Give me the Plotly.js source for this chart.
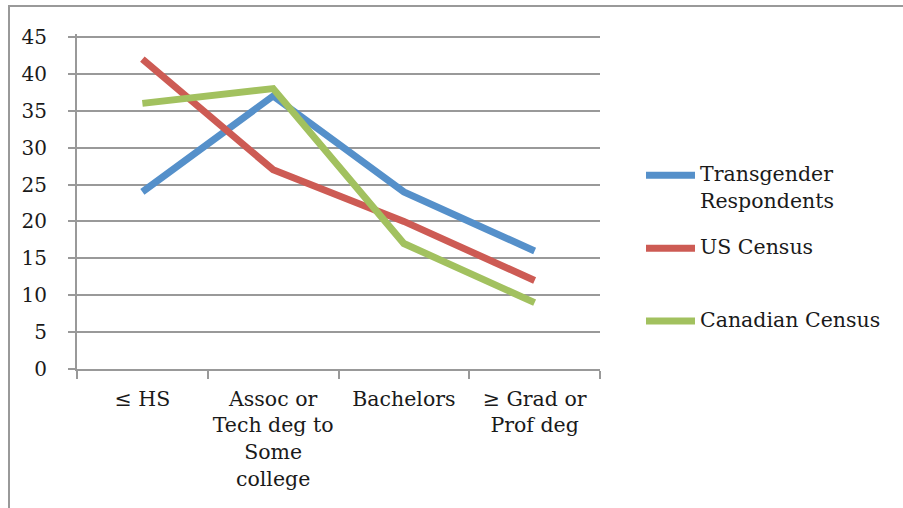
<!DOCTYPE html>
<html>
<head>
<meta charset="utf-8">
<script src="https://cdn.plot.ly/plotly-3.0.1.min.js"></script>
<style>
html,body{margin:0;padding:0;background:#fff;}
#wrap{position:relative;width:903px;height:508px;overflow:hidden;}
#frame{position:absolute;left:8px;top:5px;width:1000px;height:1000px;border-left:2px solid #999;border-top:2px solid #999;pointer-events:none;}
#chart{position:absolute;left:0;top:0;width:903px;height:508px;}
</style>
</head>
<body>
<div id="wrap"><div id="chart"></div><div id="frame"></div></div>
<script>
const categories = ["≤ HS", "Assoc or<br>Tech deg to<br>Some<br>college", "Bachelors", "≥ Grad or<br>Prof deg"];
const seriesNames = ["Transgender<br>Respondents", "US Census", "Canadian Census"];
const transgender = [24, 37, 24, 16];
const usCensus = [42, 27, 20, 12];
const canadianCensus = [36, 38, 17, 9];
const yTicks = [0, 5, 10, 15, 20, 25, 30, 35, 40, 45];
const colors = ["#5590CA", "#CD5B54", "#A2C15F"];

const values = [transgender, usCensus, canadianCensus];

const W = 903, H = 508;
const yMax = 45.4;
const L = 77, R = 600, B = 369;
const T45 = 36.5;
const T = B - (B - T45) * yMax / 45;
const px = x => (x - L) / (R - L);
const py = y => (B - y) / (B - T);

const traces = values.map((v, i) => ({
  type: "scatter", mode: "lines",
  x: categories, y: v, name: seriesNames[i],
  line: {color: colors[i], width: 7},
  showlegend: false, hoverinfo: "skip"
}));

const serif = "DejaVu Serif, Liberation Serif, serif";
const legendY = [175, 248, 321];
const shapes = [];
const annotations = [];
seriesNames.forEach((n, i) => {
  shapes.push({type: "line", xref: "paper", yref: "paper",
    x0: px(646), x1: px(695), y0: py(legendY[i]), y1: py(legendY[i]),
    line: {color: colors[i], width: 7}});
  annotations.push({xref: "paper", yref: "paper", x: px(698), y: py(legendY[i] - 15),
    xanchor: "left", yanchor: "top", align: "left", showarrow: false, text: n,
    font: {family: serif, size: 20.5, color: "#1a1a1a"}});
});

const layout = {
  width: W, height: H,
  margin: {l: L, r: W - R, t: T, b: H - B, pad: 0},
  paper_bgcolor: "rgba(0,0,0,0)", plot_bgcolor: "rgba(0,0,0,0)",
  showlegend: false,
  xaxis: {
    type: "category", range: [-0.5, 3.5], tickson: "boundaries", ticks: "outside", ticklen: 8, tickwidth: 2, tickcolor: "#999",
    showline: true, linecolor: "#999", linewidth: 2, showgrid: false, zeroline: false,
    tickfont: {family: serif, size: 20.5, color: "#1a1a1a"}, ticklabelstandoff: 10,
    fixedrange: true, tickangle: 0
  },
  yaxis: {
    range: [0, yMax], tickvals: yTicks, ticktext: yTicks.map(String),
    ticks: "outside", ticklen: 7, tickwidth: 2, tickcolor: "#999",
    showline: true, linecolor: "#999", linewidth: 2,
    showgrid: true, gridcolor: "#999", gridwidth: 2, zeroline: false,
    tickfont: {family: serif, size: 20, color: "#1a1a1a"},
    ticklabelstandoff: 17, fixedrange: true
  },
  shapes: shapes, annotations: annotations
};

Plotly.newPlot("chart", traces, layout, {staticPlot: true, displayModeBar: false});
</script>
</body>
</html>
